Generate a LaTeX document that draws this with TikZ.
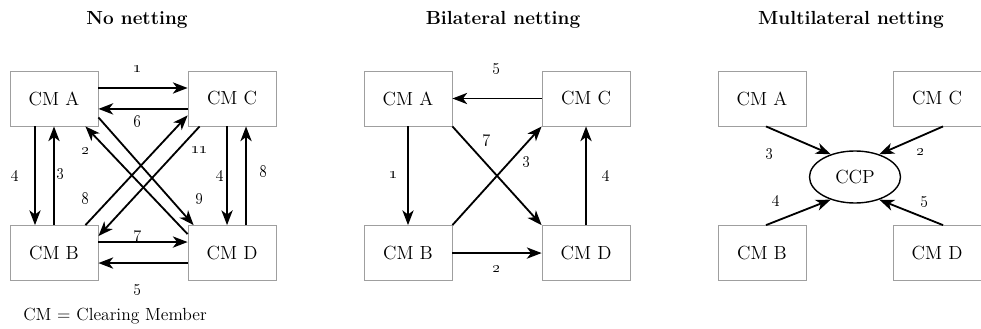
\documentclass[tikz,border=0pt]{standalone}
\usetikzlibrary{arrows.meta, positioning, shapes.geometric}
\newcommand*{\nm}[1]{\textbf{\oldstylenums{#1}}}

\begin{document}
\begin{tikzpicture}[x=0.025cm, y=-0.025cm, node distance=3.8625cm and 4.45cm, on grid,
      >={Stealth[length=10.5pt,width=8pt,inset=3pt]},
      every node/.style={font=\fontsize{13.5}{16}\selectfont},
      member/.style={draw=gray!75, line width=0.6pt, minimum width=2.2cm, minimum height=1.375cm},
      num/.style={font=\large, inner sep=1pt, text height=0.45em, text depth=0pt},
      ttl/.style={font=\fontsize{13.5}{16}\selectfont\bfseries, anchor=base},
      flow/.style={->, line width=1.3pt}]
      \useasboundingbox (0,0) rectangle (981,329);
      % titles
      \node[ttl] (t1) at (137,24) {No netting};
      \node[ttl] (t2) at (503,24) {Bilateral netting};
      \node[ttl] (t3) at (851,24) {Multilateral netting};
      % no netting
      \node[member] (a1) at (54,98.5) {CM A};
      \node[member] (c1) [right=of a1] {CM C};
      \node[member] (b1) [below=of a1] {CM B};
      \node[member] (d1) [right=of b1] {CM D};
      \draw[flow] ([yshift=0.2625cm]a1.east) -- node[num, xshift=-0.14cm, yshift=0.475cm] (p1) {\nm{1}} ([yshift=0.2625cm]c1.west);
      \draw[flow] ([yshift=-0.26cm]c1.west) -- node[num, xshift=-0.14cm, yshift=-0.35cm] (p6) {\nm{6}} ([yshift=-0.26cm]a1.east);
      \draw[flow] ([xshift=-0.475cm]a1.south) -- node[num, xshift=-0.5cm] (p4) {\nm{4}} ([xshift=-0.475cm]b1.north);
      \draw[flow] (b1) -- node[num, xshift=0.16cm, yshift=0.075cm] (p3) {\nm{3}} (a1);
      \draw[flow] ([xshift=-0.125cm]c1.south) -- node[num, xshift=-0.18cm] (q4) {\nm{4}} ([xshift=-0.125cm]d1.north);
      \draw[flow] ([xshift=0.35cm]d1.north) -- node[num, xshift=0.45cm, yshift=0.05cm] (q8) {\nm{8}} ([xshift=0.35cm]c1.south);
      \draw[flow] ([yshift=0.275cm]b1.east) -- node[num, xshift=-0.14cm, yshift=0.16cm] (p7) {\nm{7}} ([yshift=0.275cm]d1.west);
      \draw[flow] ([yshift=-0.25cm]d1.west) -- node[num, xshift=-0.14cm, yshift=-0.625cm] (p5) {\nm{5}} ([yshift=-0.25cm]b1.east);
      \draw[flow] ([yshift=0.225cm]a1.south east) -- node[num, pos=0.8, xshift=0.625cm, yshift=0.15cm] (p9) {\nm{9}} ([xshift=0.15cm]d1.north west);
      \draw[flow] ([yshift=-0.225cm]d1.north west) -- node[num, pos=0.8, xshift=-0.5cm, yshift=-0.09cm] (p2) {\nm{2}} ([xshift=-0.325cm]a1.south east);
      \draw[flow] ([xshift=-0.325cm]b1.north east) -- node[num, pos=0.2, xshift=-0.5cm, yshift=0.075cm] (p8) {\nm{8}} ([yshift=0.275cm]c1.south west);
      \draw[flow] ([xshift=0.3cm]c1.south west) -- node[num, pos=0.2, xshift=0.5cm, yshift=-0.05cm] (p11) {\nm{11}} ([yshift=-0.275cm]b1.north east);
      % bilateral netting
      \node[member] (a2) at (408,98.5) {CM A};
      \node[member] (c2) [right=of a2] {CM C};
      \node[member] (b2) [below=of a2] {CM B};
      \node[member] (d2) [right=of b2] {CM D};
      \draw[flow] (c2) -- node[num, yshift=0.775cm] (r5) {\nm{5}} (a2);
      \draw[flow] (a2) -- node[num, xshift=-0.35cm] (r1) {\nm{1}} (b2);
      \draw[flow] (d2) -- node[num, xshift=0.5cm] (r4) {\nm{4}} (c2);
      \draw[flow] (b2) -- node[num, yshift=-0.41cm] (r2) {\nm{2}} (d2);
      \draw[flow] (a2.south east) -- node[num, pos=0.3, xshift=0.19cm, yshift=0.425cm] (r7) {\nm{7}} (d2.north west);
      \draw[flow] (b2.north east) -- node[num, pos=0.75, xshift=0.175cm, yshift=-0.225cm] (r3) {\nm{3}} (c2.south west);
      % multilateral netting
      \node[member] (a3) at (762,98.5) {CM A};
      \node[member] (c3) [right=4.375cm of a3] {CM C};
      \node[member] (b3) [below=of a3] {CM B};
      \node[member] (d3) [right=4.375cm of b3] {CM D};
      \node[ellipse, draw, line width=1pt, minimum width=2.275cm, minimum height=1.3cm, inner sep=0pt] (ccp) at (855,177) {CCP};
      \draw[flow] ([xshift=0.1cm]a3.south) -- node[num, xshift=-0.725cm, yshift=-0.31cm] (s3) {\nm{3}} (ccp.137);
      \draw[flow] ([xshift=0.15cm]c3.south) -- node[num, xshift=0.225cm, yshift=-0.31cm] (s2) {\nm{2}} (ccp.43);
      \draw[flow] ([xshift=0.1cm]b3.north) -- node[num, xshift=-0.575cm, yshift=0.31cm] (s4) {\nm{4}} (ccp.-137);
      \draw[flow] ([xshift=0.15cm]d3.north) -- node[num, xshift=0.325cm, yshift=0.31cm] (s5) {\nm{5}} (ccp.-43);
      % key
      \node[anchor=base west, inner sep=0pt, font=\fontsize{12.5}{15}\selectfont] (key) at (23,320) {CM = Clearing Member};
\end{tikzpicture}
\end{document}
